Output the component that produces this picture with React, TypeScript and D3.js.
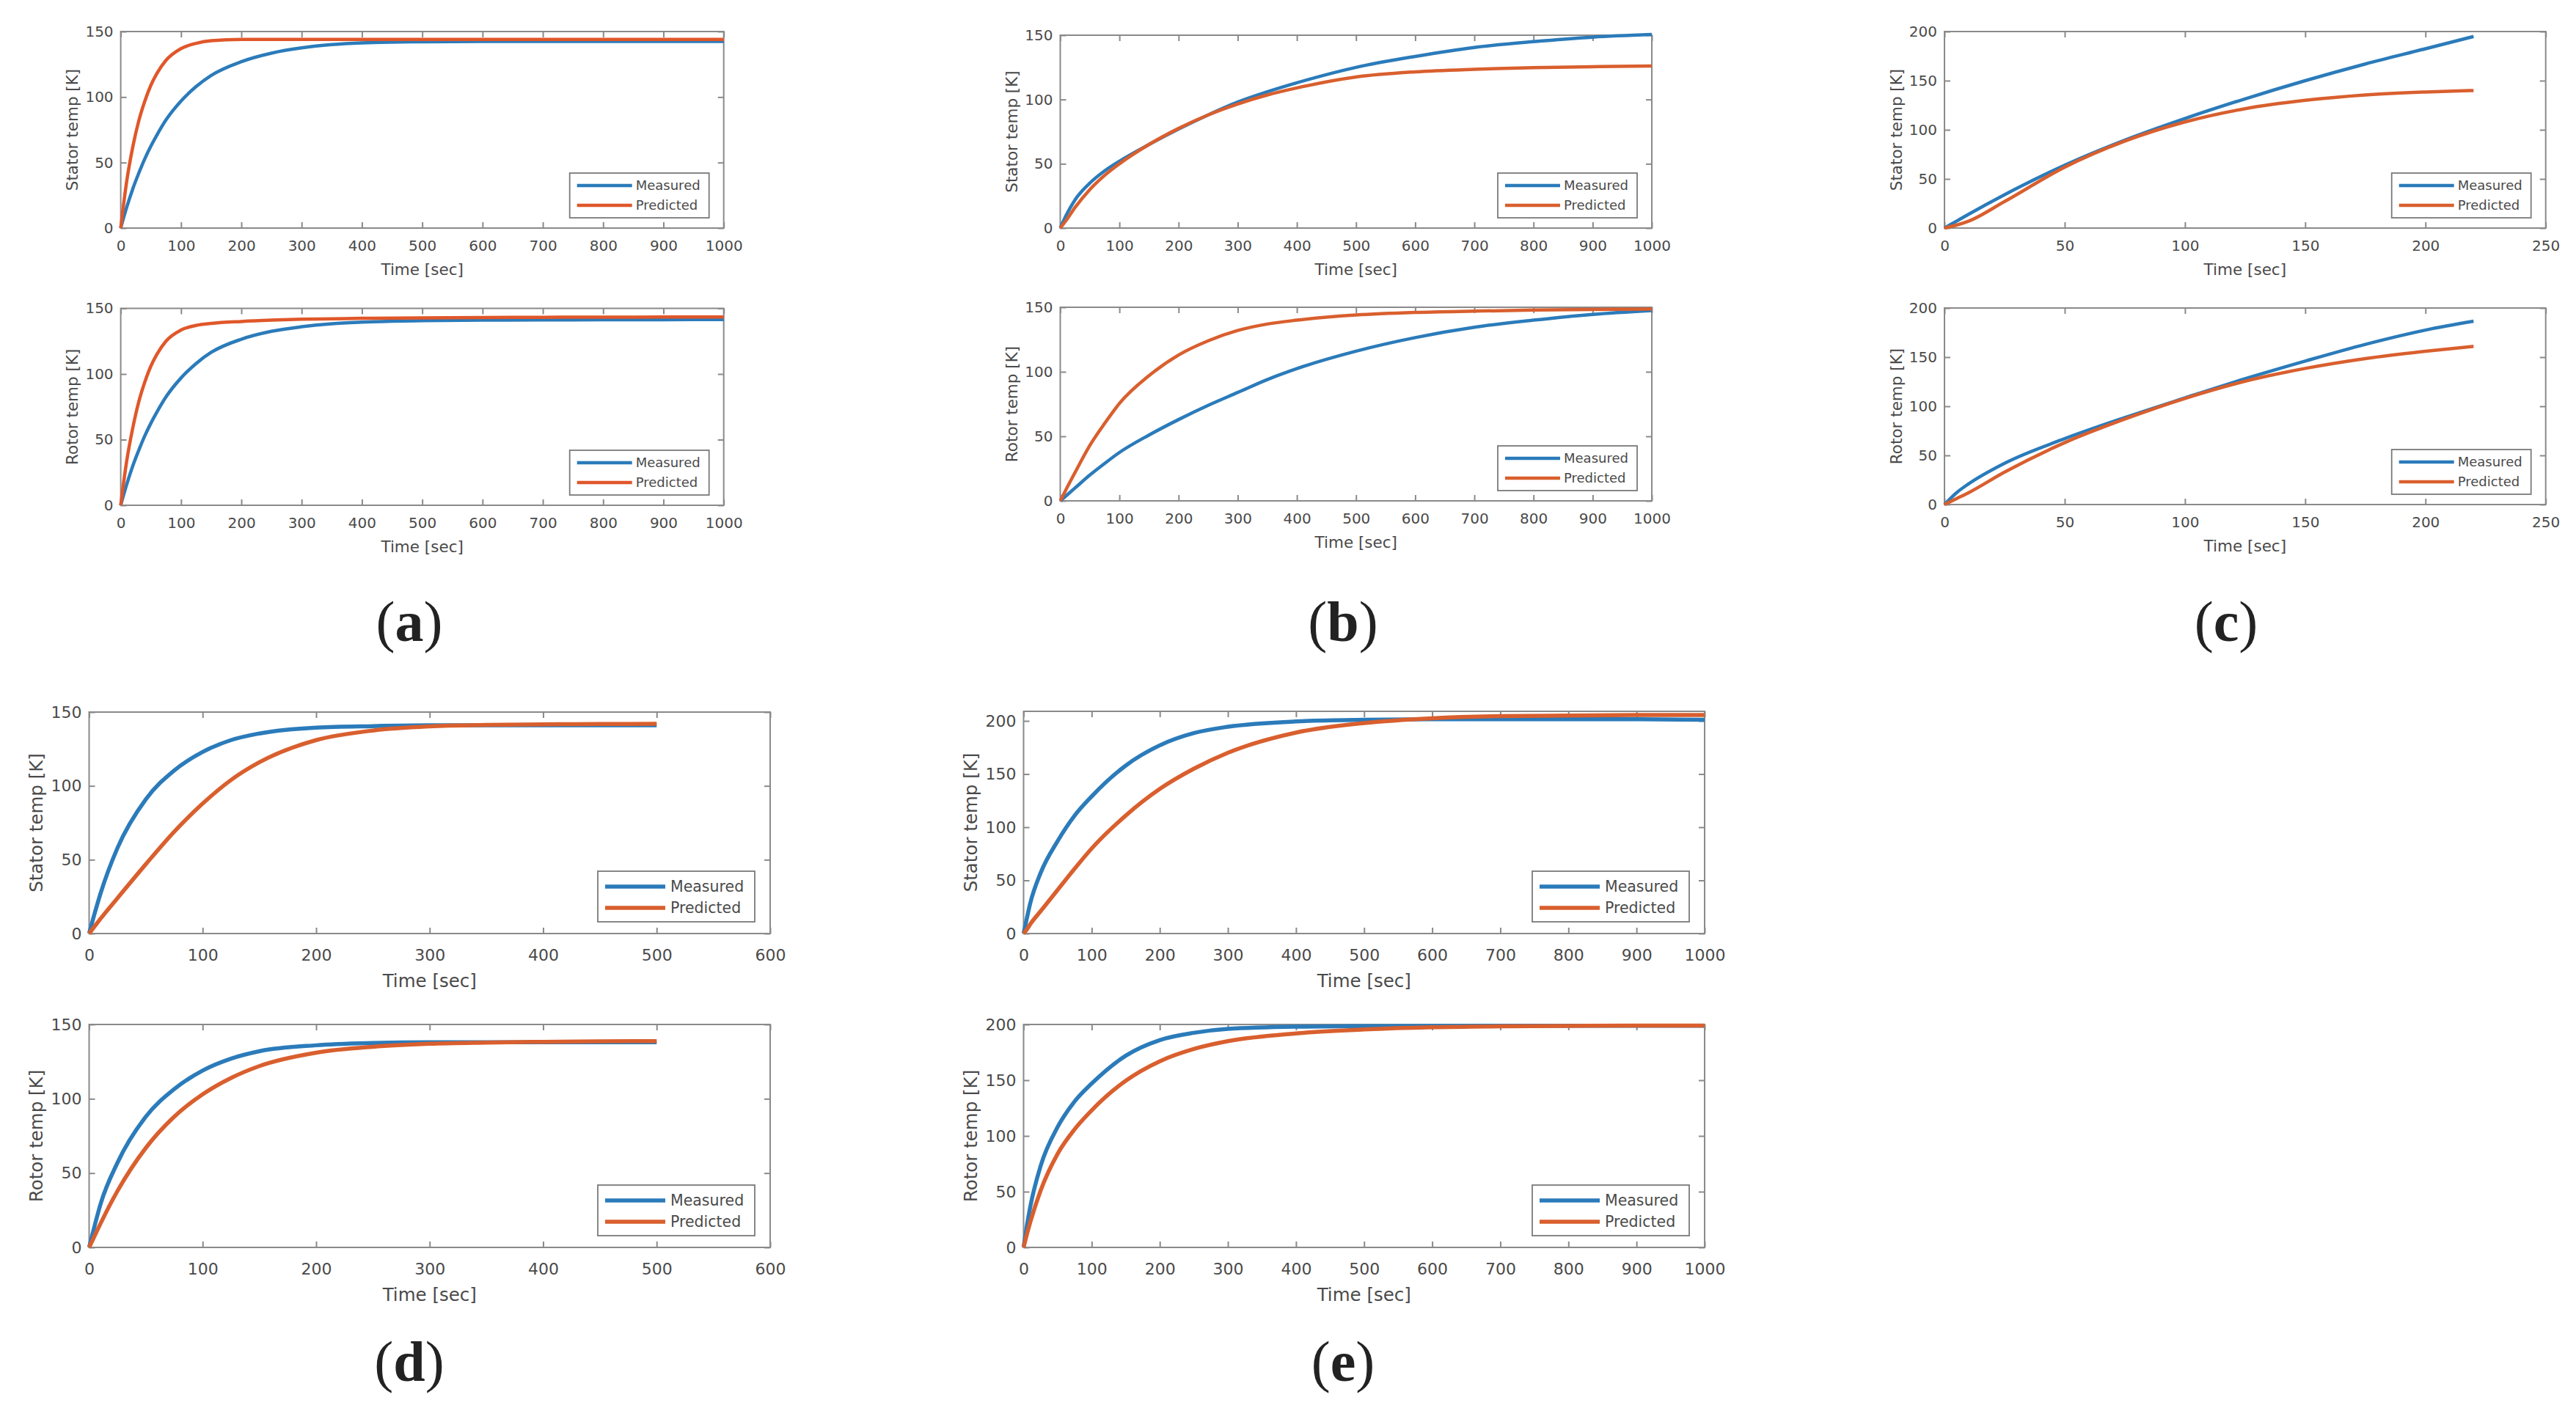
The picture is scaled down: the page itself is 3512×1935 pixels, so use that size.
import React, { useRef, useEffect } from 'react';
import * as d3 from 'd3';

// ---- data ----
// (a)
const timeA = [0, 5, 10, 20, 30, 40, 50, 60, 75, 100, 125, 150, 200, 250, 300, 350, 400, 500, 600, 700, 800, 900, 1000];
const statorMeasA = [0, 8.3, 16, 30, 42, 53, 62.5, 71, 82.5, 97, 108, 116.5, 127, 133.5, 137.5, 140, 141.3, 142.2, 142.5, 142.5, 142.5, 142.5, 142.5];
const statorPredA = [0, 19, 36, 62, 82, 97, 109, 118, 128, 137, 141, 143, 144, 144, 144, 144, 144, 144, 144, 144, 144, 144, 144];
const rotorMeasA = [0, 8.3, 16, 30, 42, 53, 62.5, 71, 82.5, 97, 108, 116.5, 126.5, 132.5, 136, 138.3, 139.5, 140.6, 141, 141.2, 141.3, 141.4, 141.5];
const rotorPredA = [0, 18, 34, 59, 79, 94, 106, 115, 125, 133.5, 137, 138.5, 140, 141, 141.7, 142, 142.4, 142.8, 143, 143.2, 143.3, 143.4, 143.5];

// (b)
const timeB = [0, 10, 25, 50, 75, 100, 150, 200, 250, 300, 350, 400, 500, 600, 700, 800, 900, 1000];
const statorMeasB = [0, 10, 22, 35, 44.5, 52, 65, 77, 88, 98, 106, 113, 125, 133.5, 140.5, 145, 148.5, 150.5];
const statorPredB = [0, 6, 16, 30, 41, 50, 65, 77.5, 88, 96.5, 103.5, 109, 117.5, 121.5, 123.5, 124.8, 125.5, 126];
const rotorMeasB = [0, 4, 10, 20, 29, 37.5, 51, 63, 74, 84, 94, 102.5, 116, 126.5, 134.5, 140, 144.5, 147.5];
const rotorPredB = [0, 9, 22, 43, 60, 75.5, 97, 113, 124, 132, 137, 140, 144, 146, 147, 147.8, 148.3, 148.6];

// (c)
const timeC = [0, 5, 10, 25, 50, 75, 100, 125, 150, 175, 200, 220];
const statorMeasC = [0, 7, 14, 34, 64, 89.5, 111.5, 131.5, 150, 167, 182.5, 195];
const statorPredC = [0, 3, 7, 27, 62, 88.5, 108, 121.5, 130, 135.5, 138.5, 140];
const rotorMeasC = [0, 12, 21, 42, 67, 88.5, 108.5, 128, 146, 163, 177.5, 186.5];
const rotorPredC = [0, 6, 12, 33, 63, 87, 108, 125.5, 138.5, 148.5, 156, 161];

// (d)
const timeD = [0, 5, 10, 25, 50, 75, 100, 125, 150, 200, 250, 300, 350, 400, 450, 500];
const statorMeasD = [0, 14, 27, 58, 91, 110.5, 123, 131, 135.5, 139.5, 140.5, 141, 141, 141, 141, 141];
const statorPredD = [0, 5, 10, 24, 47, 69, 88, 104, 116, 131, 137.5, 140.3, 141.3, 141.7, 141.9, 142];
const rotorMeasD = [0, 15, 29, 57, 88, 106.5, 119, 127, 132, 136, 137.5, 138, 138, 138, 138, 138];
const rotorPredD = [0, 8, 16, 38, 67, 88, 103, 114, 122, 131, 135, 137, 137.8, 138.3, 138.6, 138.8];

// (e)
const timeE = [0, 5, 10, 25, 50, 75, 100, 150, 200, 250, 300, 400, 500, 600, 700, 800, 900, 1000];
const statorMeasE = [0, 15, 29, 57, 87, 111, 129, 158, 177, 188.5, 194.5, 199.5, 201, 201.5, 201.5, 201.5, 201.5, 201];
const statorPredE = [0, 4, 9, 21, 41, 61, 80, 111, 136, 155, 170, 189, 198, 202.5, 204.5, 205, 205.5, 205.5];
const rotorMeasE = [0, 20, 37, 73, 108, 131, 147, 172, 186, 192.5, 196, 198, 198.5, 198.7, 198.8, 198.8, 198.8, 198.8];
const rotorPredE = [0, 12, 23, 51, 84, 106, 123, 149.5, 167, 178, 185, 192, 195.5, 197.5, 198.3, 198.7, 199, 199];

const legendLabels = ['Measured', 'Predicted'];
const subLabels = ['a', 'b', 'c', 'd', 'e'];

const BLUE = '#2b7bba';
const ORANGE = '#d95f2e';
const TEXT = '#4a4a4a';
const AXIS = '#8a8a8a';

// row styles (second row is drawn a bit larger)
const ROW1 = { tick: 20, label: 21.5, legend: 18, lw: 4.5, padX: 17, xLab: 56, yLab: 66, legW: 190, legH: 61, legGapR: 20, legGapB: 14, legLine: 75, legTextX: 90, legY1: 17, legY2: 44 };
const ROW2 = { tick: 22, label: 24.5, legend: 20.5, lw: 5.5, padX: 21, xLab: 64, yLab: 72, legW: 214, legH: 69, legGapR: 21, legGapB: 16, legLine: 82, legTextX: 99, legY1: 21, legY2: 50 };

const panels = [
  { px: [164.6, 986.7], sy: [43, 311], ry: [420.5, 689], xmax: 1000, xstep: 100, symax: 150, rymax: 150, ystep: 50, row: ROW1,
    t: timeA, s: [statorMeasA, statorPredA], r: [rotorMeasA, rotorPredA], lab: [558, 874], orange: '#e0572a' },
  { px: [1445.5, 2252], sy: [48, 311], ry: [419, 683], xmax: 1000, xstep: 100, symax: 150, rymax: 150, ystep: 50, row: ROW1,
    t: timeB, s: [statorMeasB, statorPredB], r: [rotorMeasB, rotorPredB], lab: [1831, 874], orange: ORANGE },
  { px: [2651, 3470.7], sy: [43, 311], ry: [420, 688], xmax: 250, xstep: 50, symax: 200, rymax: 200, ystep: 50, row: ROW1,
    t: timeC, s: [statorMeasC, statorPredC], r: [rotorMeasC, rotorPredC], lab: [3035, 874], orange: ORANGE },
  { px: [121.5, 1050], sy: [971, 1273], ry: [1397, 1701], xmax: 600, xstep: 100, symax: 150, rymax: 150, ystep: 50, row: ROW2,
    t: timeD, s: [statorMeasD, statorPredD], r: [rotorMeasD, rotorPredD], lab: [558, 1883], orange: ORANGE },
  { px: [1395.5, 2324], sy: [970, 1273], ry: [1397, 1701], xmax: 1000, xstep: 100, symax: 209, rymax: 200, ystep: 50, row: ROW2,
    t: timeE, s: [statorMeasE, statorPredE], r: [rotorMeasE, rotorPredE], lab: [1831, 1883], orange: ORANGE },
];

function drawAxes(svg, p, yr, ymax, series, ylabel) {
  const st = p.row;
  const [left, right] = p.px;
  const [top, bottom] = yr;
  const colors = [BLUE, p.orange];
  const x = d3.scaleLinear().domain([0, p.xmax]).range([left, right]);
  const y = d3.scaleLinear().domain([0, ymax]).range([bottom, top]);
  const xt = d3.range(0, p.xmax + 0.001, p.xstep);
  const yt = d3.range(0, ymax + 0.001, p.ystep);

  const g = svg.append('g');

  const styleAxis = (sel, size) => {
    sel.select('.domain').remove();
    sel.selectAll('line').attr('stroke', AXIS).attr('stroke-width', 2);
    sel.selectAll('text').attr('fill', TEXT).style('font-size', `${size}px`).style('font-family', '"DejaVu Sans", sans-serif');
  };

  g.append('g').attr('transform', `translate(0,${bottom})`)
    .call(d3.axisBottom(x).tickValues(xt).tickSize(-8).tickPadding(st.padX).tickFormat(d3.format('d')))
    .call((s) => styleAxis(s, st.tick));
  g.append('g').attr('transform', `translate(0,${top})`)
    .call(d3.axisTop(x).tickValues(xt).tickSize(-8).tickFormat(() => ''))
    .call((s) => styleAxis(s, st.tick));
  g.append('g').attr('transform', `translate(${left},0)`)
    .call(d3.axisLeft(y).tickValues(yt).tickSize(-8).tickPadding(10).tickFormat(d3.format('d')))
    .call((s) => styleAxis(s, st.tick));
  g.append('g').attr('transform', `translate(${right},0)`)
    .call(d3.axisRight(y).tickValues(yt).tickSize(-8).tickFormat(() => ''))
    .call((s) => styleAxis(s, st.tick));

  g.append('rect')
    .attr('x', left).attr('y', top)
    .attr('width', right - left).attr('height', bottom - top)
    .attr('fill', 'none').attr('stroke', AXIS).attr('stroke-width', 2);

  const line = d3.line().curve(d3.curveMonotoneX)
    .x((d) => x(d[0])).y((d) => y(d[1]));

  colors.forEach((c, i) => {
    g.append('path')
      .datum(p.t.map((tv, k) => [tv, series[i][k]]))
      .attr('fill', 'none').attr('stroke', c)
      .attr('stroke-width', st.lw).attr('stroke-linejoin', 'round')
      .attr('d', line);
  });

  // axis labels
  g.append('text')
    .attr('x', (left + right) / 2).attr('y', bottom + st.xLab + st.label * 0.36)
    .attr('text-anchor', 'middle').attr('fill', TEXT)
    .style('font-family', '"DejaVu Sans", sans-serif').style('font-size', `${st.label}px`)
    .text('Time [sec]');
  const cy = (top + bottom) / 2;
  const cx = left - st.yLab;
  g.append('text')
    .attr('transform', `translate(${cx + st.label * 0.36},${cy}) rotate(-90)`)
    .attr('text-anchor', 'middle').attr('fill', TEXT)
    .style('font-family', '"DejaVu Sans", sans-serif').style('font-size', `${st.label}px`)
    .text(ylabel);

  // legend
  const lx = right - st.legGapR - st.legW;
  const ly = bottom - st.legGapB - st.legH;
  const lg = g.append('g').attr('transform', `translate(${lx},${ly})`);
  lg.append('rect').attr('width', st.legW).attr('height', st.legH)
    .attr('fill', '#fff').attr('stroke', '#7a7a7a').attr('stroke-width', 1.8);
  legendLabels.forEach((name, i) => {
    const yy = i === 0 ? st.legY1 : st.legY2;
    lg.append('line').attr('x1', 10).attr('x2', 10 + st.legLine)
      .attr('y1', yy).attr('y2', yy)
      .attr('stroke', colors[i]).attr('stroke-width', st.lw);
    lg.append('text').attr('x', st.legTextX).attr('y', yy + st.legend * 0.36)
      .attr('fill', TEXT)
      .style('font-family', '"DejaVu Sans", sans-serif').style('font-size', `${st.legend}px`)
      .text(name);
  });
}

export default function App() {
  const svgRef = useRef(null);

  useEffect(() => {
    const svg = d3.select(svgRef.current);
    svg.selectAll('*').remove();

    panels.forEach((p, idx) => {
      drawAxes(svg, p, p.sy, p.symax, p.s, 'Stator temp [K]');
      drawAxes(svg, p, p.ry, p.rymax, p.r, 'Rotor temp [K]');

      // sub-figure label, e.g. "(a)" with a bold letter
      const t = svg.append('text')
        .attr('x', p.lab[0]).attr('y', p.lab[1])
        .attr('text-anchor', 'middle').attr('fill', '#222')
        .style('font-family', '"Liberation Serif", serif').style('font-size', '78px');
      t.append('tspan').text('(');
      t.append('tspan').style('font-weight', 'bold').text(subLabels[idx]);
      t.append('tspan').text(')');
    });
  }, []);

  return (
    <svg
      ref={svgRef}
      width={3512}
      height={1935}
      style={{ position: 'absolute', left: 0, top: 0, background: '#fff' }}
    />
  );
}
